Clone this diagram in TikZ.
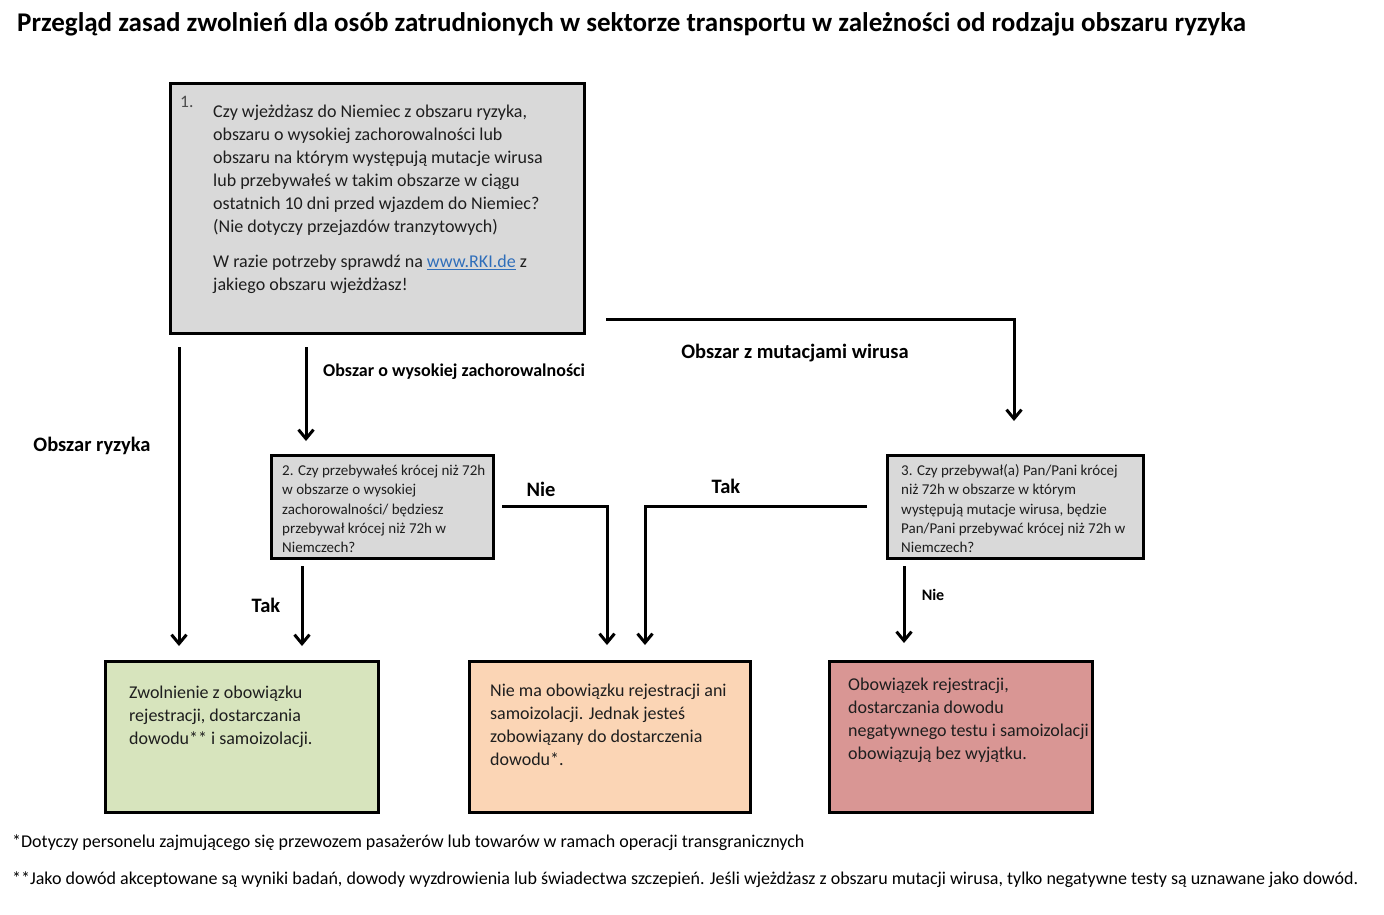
\documentclass[tikz,border=0pt]{standalone}
\usepackage{fontspec}
\setmainfont{Carlito}
\usetikzlibrary{positioning,arrows.meta}
\definecolor{boxgray}{HTML}{D9D9D9}
\definecolor{boxgreen}{HTML}{D7E4BD}
\definecolor{boxorange}{HTML}{FBD5B5}
\definecolor{boxred}{HTML}{D99694}
\definecolor{linkblue}{HTML}{2F6EBA}
\definecolor{inkdark}{HTML}{1E1E1E}

\begin{document}
\begin{tikzpicture}[x=1pt, y=-1pt, >={Straight Barb[length=9pt,width=15pt]},
  box/.style={draw, line width=3pt, anchor=north west, inner sep=0pt, outer sep=0pt},
  txt/.style={anchor=north west, align=left, inner sep=0pt, text=inkdark,
              font=\fontsize{18}{23}\selectfont},
  smalltxt/.style={anchor=north west, align=left, inner sep=0pt, text=inkdark,
              font=\fontsize{15}{19.2}\selectfont},
  lbl/.style={inner sep=0pt, font=\bfseries\fontsize{20.5}{22}\selectfont},
  smalllbl/.style={inner sep=0pt, font=\bfseries\fontsize{18}{20}\selectfont},
  arr/.style={->, line width=3pt}]
  \useasboundingbox[fill=white] (0,0) rectangle (1384,914);

  \node (title) [anchor=west, inner sep=0pt, font=\bfseries\fontsize{27}{30}\selectfont]
    at (17,24) {Przegląd zasad zwolnień dla osób zatrudnionych w sektorze transportu w zależności od rodzaju obszaru ryzyka};

  % question boxes
  \node (q1) [box, fill=boxgray, minimum width=414pt, minimum height=250pt] at (170,83) {};
  \node (q1num) [anchor=north west, inner sep=0pt, text=black!70,
                 font=\fontsize{17.5}{18}\selectfont] at (180,96) {1.};
  \node (q1txt) [txt] at ([shift={(43,22)}]q1.north west)
    {Czy wjeżdżasz do Niemiec z obszaru ryzyka,\\
     obszaru o wysokiej zachorowalności lub\\
     obszaru na którym występują mutacje wirusa\\
     lub przebywałeś w takim obszarze w ciągu\\
     ostatnich 10 dni przed wjazdem do Niemiec?\\
     (Nie dotyczy przejazdów tranzytowych)\\[12pt]
     W razie potrzeby sprawdź na \textcolor{linkblue}{\underline{www.RKI.de}} z\\
     jakiego obszaru wjeżdżasz!};

  \node (q2) [box, fill=boxgray, minimum width=222pt, minimum height=103pt] at (271,455) {};
  \node (q2txt) [smalltxt] at ([shift={(11,10)}]q2.north west)
    {2. Czy przebywałeś krócej niż 72h\\
     w obszarze o wysokiej\\
     zachorowalności/ będziesz\\
     przebywał krócej niż 72h w\\
     Niemczech?};

  \node (q3) [box, fill=boxgray, minimum width=256pt, minimum height=103pt] at (887,455) {};
  \node (q3txt) [smalltxt] at ([shift={(14,9.5)}]q3.north west)
    {3. Czy przebywał(a) Pan/Pani krócej\\
     niż 72h w obszarze w którym\\
     występują mutacje wirusa, będzie\\
     Pan/Pani przebywać krócej niż 72h w\\
     Niemczech?};

  % result boxes
  \node (free) [box, fill=boxgreen, minimum width=273pt, minimum height=151pt] at (105,661) {};
  \node (freetxt) [txt] at ([shift={(24,25)}]free.north west)
    {Zwolnienie z obowiązku\\
     rejestracji, dostarczania\\
     dowodu** i samoizolacji.};

  \node (proof) [box, fill=boxorange, minimum width=281pt, minimum height=151pt] at (469,661) {};
  \node (prooftxt) [txt] at ([shift={(21,23)}]proof.north west)
    {Nie ma obowiązku rejestracji ani\\
     samoizolacji. Jednak jesteś\\
     zobowiązany do dostarczenia\\
     dowodu*.};

  \node (full) [box, fill=boxred, minimum width=263pt, minimum height=151pt] at (829,661) {};
  \node (fulltxt) [txt] at ([shift={(19,17)}]full.north west)
    {Obowiązek rejestracji,\\
     dostarczania dowodu\\
     negatywnego testu i samoizolacji\\
     obowiązują bez wyjątku.};

  % connectors
  \draw[arr, shorten <=14pt, shorten >=15pt]
    ([xshift=9pt]q1.south west) -- ([xshift=9pt]q1.south west |- free.north);
  \draw[arr, shorten <=14pt, shorten >=14pt]
    ([xshift=136pt]q1.south west) -- ([xshift=136pt]q1.south west |- q2.north);
  \draw[arr, shorten <=22pt, shorten >=34pt]
    ([yshift=14pt]q1.south east) -| ([xshift=127pt]q3.north west);
  \draw[arr, shorten <=8pt, shorten >=15pt]
    ([xshift=31pt]q2.south west) -- ([xshift=31pt]q2.south west |- free.north);
  \draw[arr, shorten <=9pt, shorten >=16pt]
    (q2.east) -| ([xshift=138pt]proof.north west);
  \draw[arr, shorten <=20pt, shorten >=16pt]
    (q3.west) -| ([xshift=176pt]proof.north west);
  \draw[arr, shorten <=8pt, shorten >=18pt]
    ([xshift=17pt]q3.south west) -- ([xshift=17pt]q3.south west |- full.north);

  % connector labels
  \node (riskl) [lbl] at (92,446) {Obszar ryzyka};
  \node (highl) [smalllbl, anchor=west] at (323,372) {Obszar o wysokiej zachorowalności};
  \node (mutl) [lbl] at (795,353) {Obszar z mutacjami wirusa};
  \node (yes2) [lbl] at (266,605) {Tak};
  \node (no2) [lbl] at (541,489) {Nie};
  \node (yes3) [lbl] at (726,486) {Tak};
  \node (no3) [inner sep=0pt, font=\bfseries\fontsize{16}{20}\selectfont] at (933,595) {Nie};

  % footnotes
  \node (note1) [anchor=west, inner sep=0pt, font=\fontsize{18}{20}\selectfont] at (12,843)
    {*Dotyczy personelu zajmującego się przewozem pasażerów lub towarów w ramach operacji transgranicznych};
  \node (note2) [anchor=west, inner sep=0pt, font=\fontsize{18}{20}\selectfont] at (12,880)
    {**Jako dowód akceptowane są wyniki badań, dowody wyzdrowienia lub świadectwa szczepień. Jeśli wjeżdżasz z obszaru mutacji wirusa, tylko negatywne testy są uznawane jako dowód.};
\end{tikzpicture}
\end{document}
